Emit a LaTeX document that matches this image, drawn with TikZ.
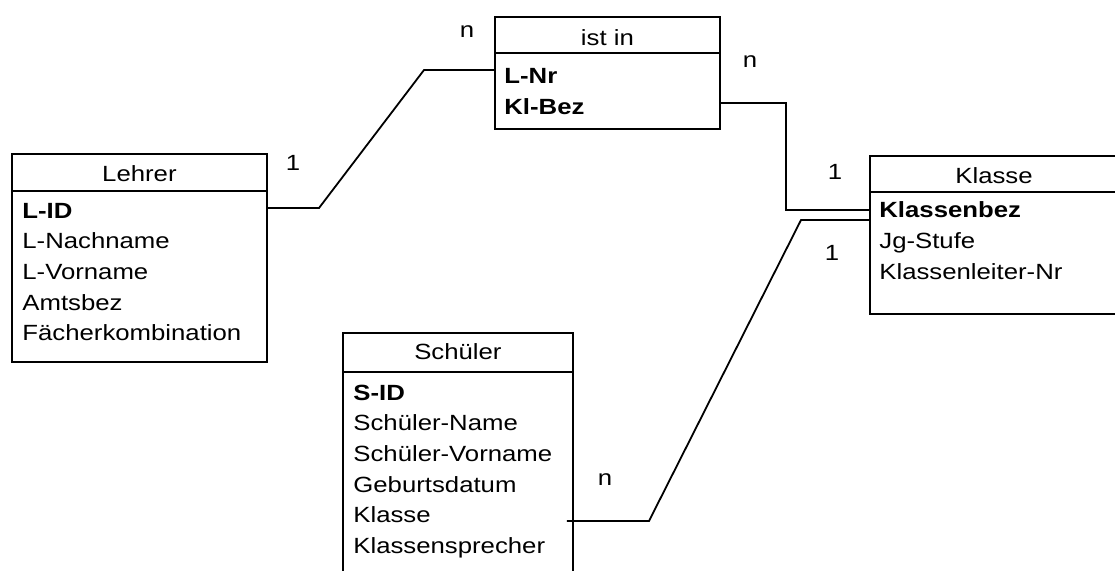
\documentclass[tikz,border=0pt]{standalone}
\usepackage{fontspec}
\setmainfont[FakeStretch=1.17]{Liberation Sans}

\begin{document}
\begin{tikzpicture}[x=0.5pt, y=-0.5pt,
    entity/.style={draw, rectangle, anchor=north west, line width=0.9pt, inner sep=0pt},
    title/.style={anchor=base, inner sep=0pt, font=\fontsize{11}{12}\selectfont},
    attr/.style={anchor=base west, inner sep=0pt, font=\fontsize{11}{12}\selectfont},
    key/.style={attr, font=\fontsize{11}{12}\selectfont\bfseries},
    card/.style={inner sep=0pt, font=\fontsize{11}{12}\selectfont},
    rel/.style={line width=0.9pt}]
    \useasboundingbox (0,0) rectangle (1115,570);
    \clip (0,0) rectangle (1115,570);

    % Lehrer
    \node[entity, minimum width=127.5pt, minimum height=104pt] (lehrer) at (11,153) {};
    \draw[line width=0.9pt] (lehrer.west |- 0,191) -- (lehrer.east |- 0,191);
    \node[title] at (lehrer.north |- 0,181) {Lehrer};
    \node[key] (lid) at (22,218) {L-ID};
    \node[attr] at (22,248.7) {L-Nachname};
    \node[attr] at (22,279.4) {L-Vorname};
    \node[attr] at (22,310.1) {Amtsbez};
    \node[attr] at (22,340.8) {Fächerkombination};

    % ist in
    \node[entity, minimum width=112.5pt, minimum height=56pt] (istin) at (494,16) {};
    \draw[line width=0.9pt] (istin.west |- 0,53) -- (istin.east |- 0,53);
    \node[title] at (istin.north |- 0,45) {ist in};
    \node[key] (lnr) at (504,83) {L-Nr};
    \node[key] (klbez) at (504,114) {Kl-Bez};

    % Klasse
    \node[entity, minimum width=125pt, minimum height=79pt] (klasse) at (869,155) {};
    \draw[line width=0.9pt] (klasse.west |- 0,192) -- (klasse.east |- 0,192);
    \node[title] at (994,183) {Klasse};
    \node[key] (kbez) at (879,217) {Klassenbez};
    \node[attr] at (879,248) {Jg-Stufe};
    \node[attr] at (879,279) {Klassenleiter-Nr};

    % Schueler
    \node[entity, minimum width=115pt, minimum height=130pt] (schueler) at (342,332) {};
    \draw[line width=0.9pt] (schueler.west |- 0,372) -- (schueler.east |- 0,372);
    \node[title] at (schueler.north |- 0,359) {Schüler};
    \node[key] at (353,400) {S-ID};
    \node[attr] at (353,430.7) {Schüler-Name};
    \node[attr] at (353,461.4) {Schüler-Vorname};
    \node[attr] at (353,492.1) {Geburtsdatum};
    \node[attr] (skl) at (353,522.8) {Klasse};
    \node[attr] at (353,553.5) {Klassensprecher};

    % Beziehungen
    \coordinate (b1) at (319,208);
    \coordinate (b2) at (424,70);
    \coordinate (b3) at (786,103);
    \coordinate (b4) at (786,210);
    \coordinate (b5) at (649,521);
    \coordinate (b6) at (801,220);
    \draw[rel] (lehrer.east |- b1) -- (b1) -- (b2) -- (istin.west |- b2);
    \draw[rel] (istin.east |- b3) -- (b3) -- (b4) -- (klasse.west |- b4);
    \draw[rel] ([xshift=-3.5pt]schueler.east |- b5) -- (b5) -- (b6) -- (klasse.west |- b6);

    \node[card] at (293,163) {1};
    \node[card] at (467,32) {n};
    \node[card] at (750,62) {n};
    \node[card] at (835,172) {1};
    \node[card] at (832,253) {1};
    \node[card] at (605,480) {n};
\end{tikzpicture}
\end{document}
